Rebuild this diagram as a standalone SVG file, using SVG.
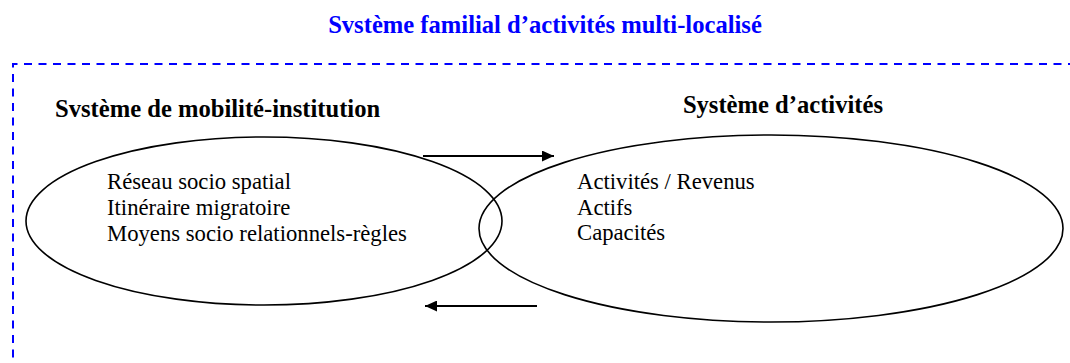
<svg xmlns="http://www.w3.org/2000/svg" width="1070" height="363" viewBox="0 0 1070 363">
<style>
.h{font-family:"Liberation Serif","Times New Roman",serif;font-weight:bold;font-size:24.6px;fill:#000}
.t{font-family:"Liberation Serif","Times New Roman",serif;font-size:22.7px;fill:#000}
.title{fill:#0000ff}
.shape{fill:none;stroke:#000;stroke-width:1.6}
.conn{stroke:#000;stroke-width:2;fill:none}
.frame{fill:none;stroke:#0000ff;stroke-width:2;stroke-dasharray:8 6.5}
</style>
<defs>
<marker id="ah" viewBox="0 0 12 11" refX="12" refY="5.5" markerWidth="12" markerHeight="11" markerUnits="userSpaceOnUse" orient="auto">
<path d="M0,0 L12,5.5 L0,11 Z" fill="#000"/>
</marker>
</defs>
<rect width="1070" height="363" fill="#fff"/>
<g id="frame">
<text class="h title" x="545" y="33" text-anchor="middle">Svstème familial d’activités multi-localisé</text>
<path class="frame" d="M13,372 L13,64 L1075,64"/>
</g>
<g id="mobilite">
<text class="h" x="55" y="117">Svstème de mobilité-institution</text>
<ellipse class="shape" cx="264" cy="221" rx="238" ry="84"/>
<text class="t" x="107" y="189">Réseau socio spatial</text>
<text class="t" x="107" y="215">Itinéraire migratoire</text>
<text class="t" x="107" y="241">Moyens socio relationnels-règles</text>
</g>
<g id="activites">
<text class="h" x="883" y="113" text-anchor="end">Système d’activités</text>
<ellipse class="shape" cx="771" cy="228.5" rx="292" ry="93.5"/>
<text class="t" x="577" y="189">Activités / Revenus</text>
<text class="t" x="577" y="215">Actifs</text>
<text class="t" x="577" y="240">Capacités</text>
</g>
<g id="connectors">
<line class="conn" x1="423" y1="156" x2="554" y2="156" marker-end="url(#ah)"/>
<line class="conn" x1="537" y1="306" x2="425" y2="306" marker-end="url(#ah)"/>
</g>
</svg>
